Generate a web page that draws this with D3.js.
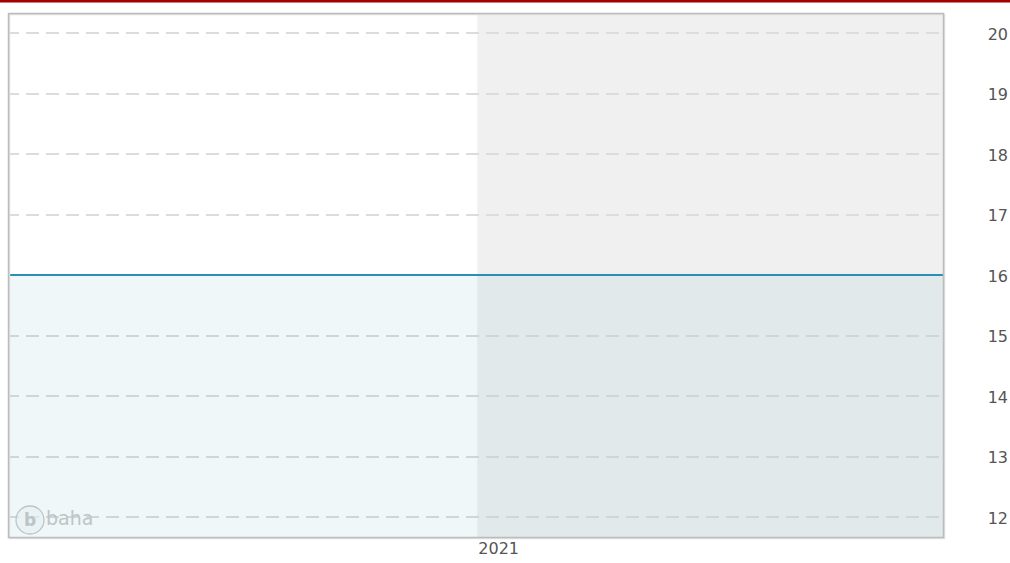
<!DOCTYPE html>
<html>
<head>
<meta charset="utf-8">
<script src="https://cdn.jsdelivr.net/npm/d3@7"></script>
<style>
  html, body { margin: 0; padding: 0; background: #fff; }
  svg { display: block; }
</style>
</head>
<body>
<svg id="chart" width="1010" height="563"></svg>
<script>
// ---- data ----
const dates = ["2020-07-02", "2021-07-02"];
const values = [16, 16];
const yTicks = [12, 13, 14, 15, 16, 17, 18, 19, 20];
const xTickDates = ["2021-01-01"];
const xTickLabels = ["2021"];
const shadeStart = "2021-01-01";

// ---- layout ----
const W = 1010, H = 563;
const plot = { left: 8.5, right: 943.5, top: 13.5, bottom: 537.5 };
const parse = d3.utcParse("%Y-%m-%d");

const svg = d3.select("#chart");

// top red band
svg.append("rect").attr("x", 0).attr("y", 0).attr("width", W).attr("height", 2.5).attr("fill", "#a00000");

const x = d3.scaleUtc()
  .domain([parse(dates[0]), parse(dates[dates.length - 1])])
  .range([plot.left, plot.right]);
const y = d3.scaleLinear().domain([12, 20]).range([517, 33]);

// plot background
svg.append("rect").attr("x", plot.left).attr("y", plot.top)
  .attr("width", plot.right - plot.left).attr("height", plot.bottom - plot.top)
  .attr("fill", "#ffffff");
svg.append("rect").attr("x", x(parse(shadeStart))).attr("y", plot.top)
  .attr("width", plot.right - x(parse(shadeStart))).attr("height", plot.bottom - plot.top)
  .attr("fill", "#f0f0f0");

// gridlines
svg.append("g").selectAll("line").data(yTicks).join("line")
  .attr("x1", plot.left).attr("x2", plot.right)
  .attr("y1", d => Math.round(y(d))).attr("y2", d => Math.round(y(d)))
  .attr("stroke", "#dcdcdc").attr("stroke-width", 2)
  .attr("stroke-dasharray", "13,7").attr("stroke-dashoffset", 2.5);

// watermark logo
const logo = svg.append("g").attr("fill", "none").attr("stroke", "#c8c8c8");
logo.append("circle").attr("cx", 30).attr("cy", 520).attr("r", 14).attr("stroke-width", 1.3)
  .attr("fill", "rgba(245,248,250,0.6)");
logo.append("text").attr("x", 30).attr("y", 520).attr("dy", "0.36em").attr("text-anchor", "middle")
  .attr("font-family", "DejaVu Sans, sans-serif").attr("font-weight", "bold").attr("font-size", 17)
  .attr("fill", "#c8c8c8").attr("stroke", "none").text("b");
logo.append("text").attr("x", 46).attr("y", 525)
  .attr("font-family", "DejaVu Sans, sans-serif").attr("font-size", 19)
  .attr("fill", "#cacaca").attr("stroke", "none").text("baha");

// series
const data = dates.map((d, i) => ({ date: parse(d), value: values[i] }));
const area = d3.area().x(d => x(d.date)).y0(plot.bottom).y1(d => y(d.value));
const line = d3.line().x(d => x(d.date)).y(d => y(d.value));
svg.append("path").datum(data).attr("d", area).attr("fill", "rgba(42,143,176,0.075)");
svg.append("path").datum(data).attr("d", line).attr("fill", "none")
  .attr("stroke", "#2b8fb3").attr("stroke-width", 2);

// border
svg.append("rect").attr("x", plot.left + 1).attr("y", plot.top + 1)
  .attr("width", plot.right - plot.left).attr("height", plot.bottom - plot.top)
  .attr("fill", "none").attr("stroke", "#e2e2e2").attr("stroke-width", 1.5);
svg.append("rect").attr("x", plot.left).attr("y", plot.top)
  .attr("width", plot.right - plot.left).attr("height", plot.bottom - plot.top)
  .attr("fill", "none").attr("stroke", "#bcbcbc").attr("stroke-width", 1.5);

// y axis labels (right)
const yAxis = d3.axisRight(y).tickValues(yTicks).tickSize(0).tickPadding(0).tickFormat(d3.format("d"));
const gy = svg.append("g").attr("transform", "translate(1008,0)").call(yAxis);
gy.select(".domain").remove();
gy.selectAll("text").attr("text-anchor", "end").attr("dy", "0.4em")
  .attr("font-family", "DejaVu Sans, sans-serif").attr("font-size", 16).attr("fill", "#555");

// x axis label
const xAxis = d3.axisBottom(x).tickValues(xTickDates.map(parse)).tickSize(0).tickPadding(0)
  .tickFormat((d, i) => xTickLabels[i]);
const gx = svg.append("g").attr("transform", `translate(0,${plot.bottom + 5})`).call(xAxis);
gx.select(".domain").remove();
gx.selectAll("text").attr("text-anchor", "start").attr("x", 0.5)
  .attr("font-family", "DejaVu Sans, sans-serif").attr("font-size", 16).attr("fill", "#555");
</script>
</body>
</html>
